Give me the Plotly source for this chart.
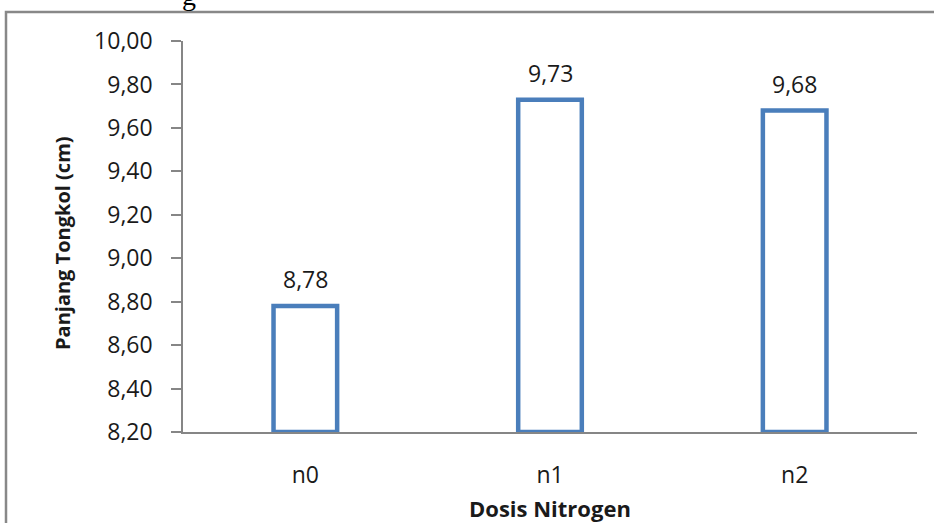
import plotly.graph_objects as go

# Panjang tongkol per dosis nitrogen
categories = ["n0", "n1", "n2"]
values = [8.78, 9.73, 9.68]
y_ticks = [8.2, 8.4, 8.6, 8.8, 9.0, 9.2, 9.4, 9.6, 9.8, 10.0]
y_tick_labels = [f"{v:.2f}".replace(".", ",") for v in y_ticks]
axis_min = 8.2

FONT = "Open Sans"
BAR_LINE = "#4A7EBB"
AXIS_GRAY = "#868686"
TEXT = "#1a1a1a"

# plot area in pixels: left 183, right 917, top 41, bottom 432
PW, PH = 734, 391


def px_x(p):
    return (p - 183) / PW


def px_y(p):
    return (432 - p) / PH


fig = go.Figure()
fig.add_trace(go.Bar(
    x=categories,
    y=[v - axis_min for v in values],
    base=axis_min,
    width=0.26,
    marker=dict(color="white", line=dict(color=BAR_LINE, width=4.5)),
    hoverinfo="skip",
))

# value labels above each bar
for c, v in zip(categories, values):
    fig.add_annotation(
        x=c, y=v, text=f"{v:.2f}".replace(".", ","),
        showarrow=False, yanchor="bottom", yshift=9,
        font=dict(family=FONT, size=23, color=TEXT),
    )

# axis titles
fig.add_annotation(
    x=0.5, y=px_y(508), xref="paper", yref="paper",
    text="<b>Dosis Nitrogen</b>", showarrow=False,
    xanchor="center", yanchor="middle",
    font=dict(family=FONT, size=22, color=TEXT),
)
fig.add_annotation(
    x=px_x(62), y=px_y(243), xref="paper", yref="paper",
    text="<b>Panjang Tongkol (cm)</b>", showarrow=False, textangle=-90,
    xanchor="center", yanchor="middle",
    font=dict(family=FONT, size=20, color=TEXT),
)

# bottom of the caption line that sits above the chart frame
fig.add_annotation(
    x=px_x(189), y=px_y(13), xref="paper", yref="paper",
    text="g", showarrow=False, xanchor="center", yanchor="bottom",
    font=dict(family="Liberation Serif", size=28, color="black"),
)

fig.update_layout(
    width=934, height=523,
    margin=dict(l=183, r=17, t=41, b=91),
    paper_bgcolor="white", plot_bgcolor="white",
    showlegend=False,
    bargap=0.74,
    font=dict(family=FONT, color=TEXT),
    xaxis=dict(
        showline=True, linecolor=AXIS_GRAY, linewidth=1.5,
        ticks="", showgrid=False, automargin=False,
        tickfont=dict(family=FONT, size=23, color=TEXT),
        ticklabelstandoff=22,
    ),
    yaxis=dict(
        range=[axis_min, 10.0],
        tickvals=y_ticks, ticktext=y_tick_labels,
        showline=True, linecolor=AXIS_GRAY, linewidth=1.5,
        ticks="outside", ticklen=10, tickcolor=AXIS_GRAY, tickwidth=1.5,
        showgrid=False, zeroline=False, automargin=False,
        tickfont=dict(family=FONT, size=23, color=TEXT),
        ticklabelstandoff=14,
    ),
    shapes=[
        # outer frame of the chart area (continues past right/bottom edges)
        dict(type="rect", xref="paper", yref="paper",
             x0=px_x(6), x1=1.1, y0=-0.5, y1=px_y(12),
             line=dict(color="#888888", width=2.5), fillcolor="rgba(0,0,0,0)", layer="below"),
    ],
)

fig.write_html("out.html")
